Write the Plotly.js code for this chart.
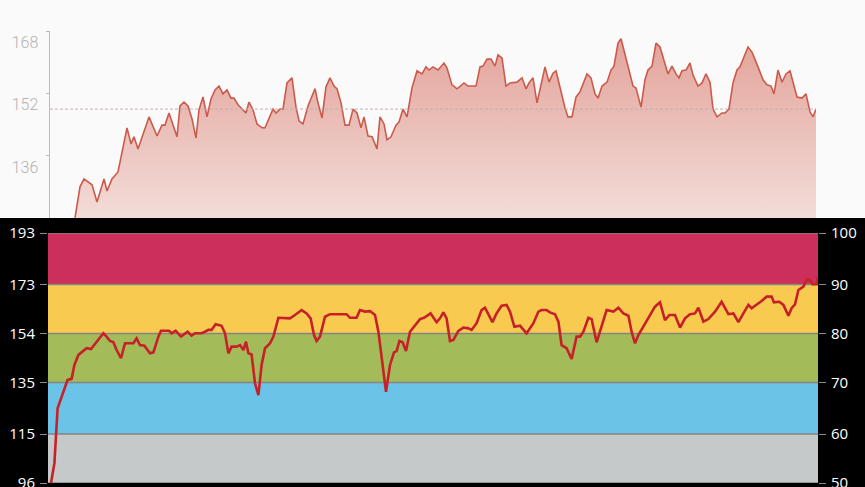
<!DOCTYPE html>
<html>
<head>
<meta charset="utf-8">
<script src="https://cdn.plot.ly/plotly-3.0.1.min.js"></script>
<style>
  html, body { margin: 0; padding: 0; background: #fafafa; width: 865px; height: 487px; overflow: hidden; }
  #top { position: absolute; left: 0; top: 0; width: 865px; height: 218px; }
  #bot { position: absolute; left: 0; top: 218px; width: 865px; height: 300px; }
</style>
</head>
<body>
<div id="top"></div>
<div id="bot"></div>
<script>
// ---------- Top chart: heart rate area (elapsed seconds, bpm) ----------
const topTime = [0, 60, 125, 150, 170, 210, 235, 270, 285, 310, 340, 385, 405, 420, 440, 495, 535, 560, 575, 595,
  635, 650, 670, 690, 710, 730, 745, 765, 785, 805, 825, 845, 865, 885, 905, 920, 940, 980, 995, 1015,
  1035, 1060, 1075, 1115, 1130, 1150, 1165, 1185, 1210, 1230, 1245, 1265, 1290, 1325, 1340, 1360, 1380, 1400, 1420, 1435,
  1455, 1475, 1495, 1515, 1535, 1555, 1570, 1590, 1610, 1635, 1650, 1670, 1685, 1705, 1730, 1745, 1765, 1785, 1810, 1835,
  1860, 1880, 1895, 1915, 1940, 1970, 1985, 2010, 2035, 2070, 2090, 2130, 2150, 2165, 2185, 2205, 2225, 2240, 2260, 2280,
  2300, 2335, 2360, 2380, 2395, 2415, 2435, 2475, 2495, 2515, 2530, 2575, 2590, 2610, 2630, 2650, 2685, 2705, 2725, 2740,
  2760, 2785, 2805, 2820, 2840, 2855, 2915, 2930, 2955, 2975, 2990, 3010, 3030, 3050, 3090, 3110, 3130, 3145, 3160, 3180,
  3200, 3215, 3240, 3260, 3280, 3300, 3315, 3335, 3360, 3375, 3395, 3415, 3435, 3450, 3490, 3510, 3540, 3565, 3585, 3605,
  3620, 3640, 3660, 3680, 3700, 3735, 3760, 3780, 3800, 3815, 3830];
const topBpm = [98, 109, 120.1, 128.1, 130.1, 128.6, 124.2, 130.1, 127, 130.1, 131.9, 143.2, 139.1, 140.9, 137.8, 146, 141.1, 143.9, 143.9, 147,
  140.9, 148.8, 149.8, 148.8, 145.5, 140.6, 147.8, 151.1, 146, 150.6, 152.9, 153.9, 151.9, 152.9, 150.8, 150.8, 149.1, 147, 149.8, 147.8,
  144.2, 143.2, 143.2, 148, 147, 148, 148, 154.7, 156, 148.5, 145, 144.2, 148.8, 153.2, 149.6, 145.7, 153.7, 156, 153.9, 153.2,
  149.6, 143.9, 143.9, 148, 147, 143.2, 146, 141.1, 140.9, 137.8, 146, 144.2, 140.1, 140.9, 143.9, 144.7, 148, 146, 153.4, 157.8,
  157, 158.8, 158, 158.8, 158, 159.8, 158.5, 154.2, 153.2, 154.7, 153.9, 153.9, 158.8, 159, 160.8, 160.8, 159, 161.9, 161.1, 153.9,
  154.7, 154.9, 156, 153.2, 154.7, 156, 149.6, 158.8, 154.9, 157.2, 157.8, 148.3, 146, 146, 151.1, 152.4, 157, 156, 151.9, 150.8,
  153.9, 154.9, 158, 159, 164.9, 166, 153.9, 153.4, 148.5, 155.5, 158, 159, 164.9, 163.9, 157, 159, 157, 156, 157.8, 158,
  159.8, 156.7, 153.9, 154.7, 157, 154.9, 148, 146, 147, 147, 148, 154.7, 158, 158.8, 163.9, 162.6, 158.8, 155.5, 154.2, 153.9,
  151.9, 158, 154.9, 157, 157.8, 151.1, 150.8, 151.9, 147.3, 146, 148];
const topAverage = 148;
const topTicks = [136, 152, 168];

// ---------- Bottom chart: heart rate zones ----------
const zoneBounds = [96, 115, 135, 154, 173, 193];
const zonePercent = ['50', '60', '70', '80', '90', '100'];
const zoneColors = ['#c5c9c9', '#6bc3e8', '#a3bb59', '#f8cb50', '#cc2f5b'];

const hrTime = [5, 22, 38, 50, 67, 75, 88, 108, 122, 142, 167, 183, 205, 222, 242, 267, 283, 300, 317, 333,
  355, 375, 417, 433, 450, 472, 500, 517, 542, 555, 595, 608, 628, 655, 688, 708, 725, 758, 775, 792,
  808, 828, 858, 875, 892, 908, 933, 950, 967, 980, 992, 1008, 1025, 1042, 1058, 1075, 1100, 1117, 1142, 1167,
  1200, 1225, 1258, 1283, 1303, 1320, 1333, 1350, 1375, 1400, 1450, 1483, 1500, 1533, 1550, 1575, 1600, 1625, 1642, 1658,
  1680, 1700, 1720, 1733, 1747, 1763, 1780, 1800, 1825, 1850, 1870, 1903, 1933, 1950, 1967, 1983, 2000, 2017, 2042, 2067,
  2092, 2108, 2133, 2158, 2175, 2192, 2212, 2233, 2258, 2283, 2300, 2322, 2350, 2383, 2417, 2442, 2458, 2483, 2500, 2525,
  2542, 2558, 2583, 2608, 2633, 2650, 2667, 2692, 2708, 2733, 2758, 2783, 2817, 2842, 2867, 2892, 2908, 2925, 2942, 2967,
  2992, 3025, 3050, 3075, 3097, 3125, 3150, 3175, 3200, 3225, 3242, 3267, 3292, 3325, 3358, 3392, 3417, 3442, 3467, 3492,
  3508, 3533, 3558, 3583, 3608, 3620, 3647, 3667, 3692, 3708, 3725, 3742, 3767, 3783, 3800, 3813, 3833, 3840];
const hrBpm = [96, 103.6, 125, 127.5, 131.4, 133, 136, 136.4, 141.8, 145.7, 147.2, 148.3, 148, 149.8, 151.9, 154.1, 152.8, 151.1, 150.6, 147.6,
  144.4, 150.2, 150.2, 152.1, 149.5, 149.3, 146.3, 146.7, 152.8, 155.1, 155.1, 154.1, 155.1, 152.8, 154.7, 153.2, 154.1, 154.1, 154.7, 155.4,
  155.4, 157.6, 157, 154.1, 146.3, 148.9, 148.9, 149.5, 147.6, 150.8, 146.3, 145.9, 134.7, 130.1, 141.8, 148.3, 150.2, 152.8, 160.1, 159.9,
  159.9, 161.2, 163.1, 161.8, 159.9, 153.4, 151.1, 152.8, 160.5, 161.5, 161.5, 161.5, 160.1, 160.1, 163.1, 162.5, 162.7, 161.2, 154.7, 144.4,
  131.4, 141.8, 146.7, 147.2, 151.1, 150.6, 147.2, 154.7, 157.3, 159.6, 160.1, 161.8, 158.4, 159.9, 162.2, 159.9, 151.1, 151.5, 155, 156.3,
  156, 155.4, 158, 163.1, 164, 161.2, 158.4, 161.8, 164.8, 165.1, 162.5, 156.6, 157, 154.1, 158, 162.5, 163.1, 163.1, 162.2, 161.5,
  158.6, 149.5, 148.3, 144.1, 152.8, 152.8, 154.7, 160.1, 159.6, 150.6, 156.6, 163.1, 162.5, 164, 161.8, 160.9, 154.7, 150.2, 153.4, 156.6,
  159.9, 164.4, 166.1, 159.2, 161.2, 161.2, 156.3, 159.9, 161.5, 161.8, 164, 158.6, 159.6, 162.5, 166.3, 161.5, 161.8, 158.4, 161.8, 165.1,
  163.8, 165.1, 166.6, 168.3, 168.3, 166.1, 166.3, 165.1, 160.9, 163.8, 165.3, 170.9, 172.2, 174.8, 174.8, 173.1, 173.1, 176];

// ---------- Draw top ----------
Plotly.newPlot('top', [{
  type: 'scatter', mode: 'lines', x: topTime, y: topBpm,
  line: { color: '#cc5a4c', width: 1.6 },
  fill: 'tozeroy',
  fillgradient: { type: 'vertical', start: 120, stop: 168,
    colorscale: [[0, '#f3dcd8'], [1, '#e2a198']] },
  hoverinfo: 'skip', showlegend: false
}], {
  width: 865, height: 218,
  margin: { l: 50, r: 49, t: 31, b: 0, pad: 0 },
  paper_bgcolor: '#fafafa', plot_bgcolor: 'rgba(0,0,0,0)',
  showlegend: false,
  xaxis: { range: [0, 3830], visible: false, fixedrange: true },
  yaxis: {
    range: [120.1, 168], tickvals: topTicks, ticktext: topTicks.map(String),
    showgrid: false, zeroline: false,
    showline: true, linecolor: '#bdbdbd', linewidth: 1.5,
    ticks: 'outside', ticklen: 3, tickcolor: '#bdbdbd', tickwidth: 1,
    ticklabelshift: 11, ticklabelstandoff: 4,
    tickfont: { family: 'Roboto, Lato, sans-serif', size: 16, color: '#b3b3b3', weight: 300 },
    fixedrange: true
  },
  shapes: [{
    type: 'line', xref: 'x', yref: 'y', x0: topTime[0], x1: topTime[topTime.length - 1],
    y0: topAverage, y1: topAverage,
    line: { color: '#c0b0ae', width: 1, dash: '3px,2px' }, layer: 'above'
  }]
}, { staticPlot: true });

// ---------- Draw bottom ----------
const bandShapes = zoneColors.map((c, i) => ({
  type: 'rect', xref: 'paper', yref: 'y', x0: 0, x1: 1,
  y0: zoneBounds[i], y1: zoneBounds[i + 1],
  fillcolor: c, line: { width: 0 }, layer: 'below'
}));
const borderShapes = zoneBounds.map(b => ({
  type: 'line', xref: 'paper', yref: 'y', x0: 0, x1: 1, y0: b, y1: b,
  line: { color: '#858585', width: 1.5 }, layer: 'below'
}));

Plotly.newPlot('bot', [
  {
    type: 'scatter', mode: 'lines', x: hrTime, y: hrBpm,
    line: { color: '#c62128', width: 2.6 },
    hoverinfo: 'skip', showlegend: false
  },
  {
    type: 'scatter', mode: 'lines', x: [hrTime[0], hrTime[0]],
    y: [zoneBounds[0], zoneBounds[zoneBounds.length - 1]],
    yaxis: 'y2', line: { width: 0, color: 'rgba(0,0,0,0)' },
    hoverinfo: 'skip', showlegend: false
  }
], {
  width: 865, height: 300,
  margin: { l: 48, r: 47, t: 15, b: 35, pad: 0 },
  paper_bgcolor: '#000000', plot_bgcolor: 'rgba(0,0,0,0)',
  showlegend: false,
  xaxis: { range: [-10, 3840], visible: false, fixedrange: true },
  yaxis: {
    range: [96, 193], tickvals: zoneBounds, ticktext: zoneBounds.map(String),
    showgrid: false, zeroline: false, showline: false,
    ticks: 'outside', ticklen: 7, tickcolor: '#8a8a8a', tickwidth: 1,
    ticklabelstandoff: 2,
    tickfont: { family: 'Open Sans, sans-serif', size: 15, color: '#ffffff' },
    fixedrange: true
  },
  yaxis2: {
    overlaying: 'y', side: 'right', range: [96, 193],
    tickvals: zoneBounds, ticktext: zonePercent,
    showgrid: false, zeroline: false, showline: false,
    ticks: 'outside', ticklen: 7, tickcolor: '#8a8a8a', tickwidth: 1,
    ticklabelstandoff: 2,
    tickfont: { family: 'Open Sans, sans-serif', size: 15, color: '#ffffff' },
    fixedrange: true
  },
  shapes: bandShapes.concat(borderShapes)
}, { staticPlot: true });
</script>
</body>
</html>
